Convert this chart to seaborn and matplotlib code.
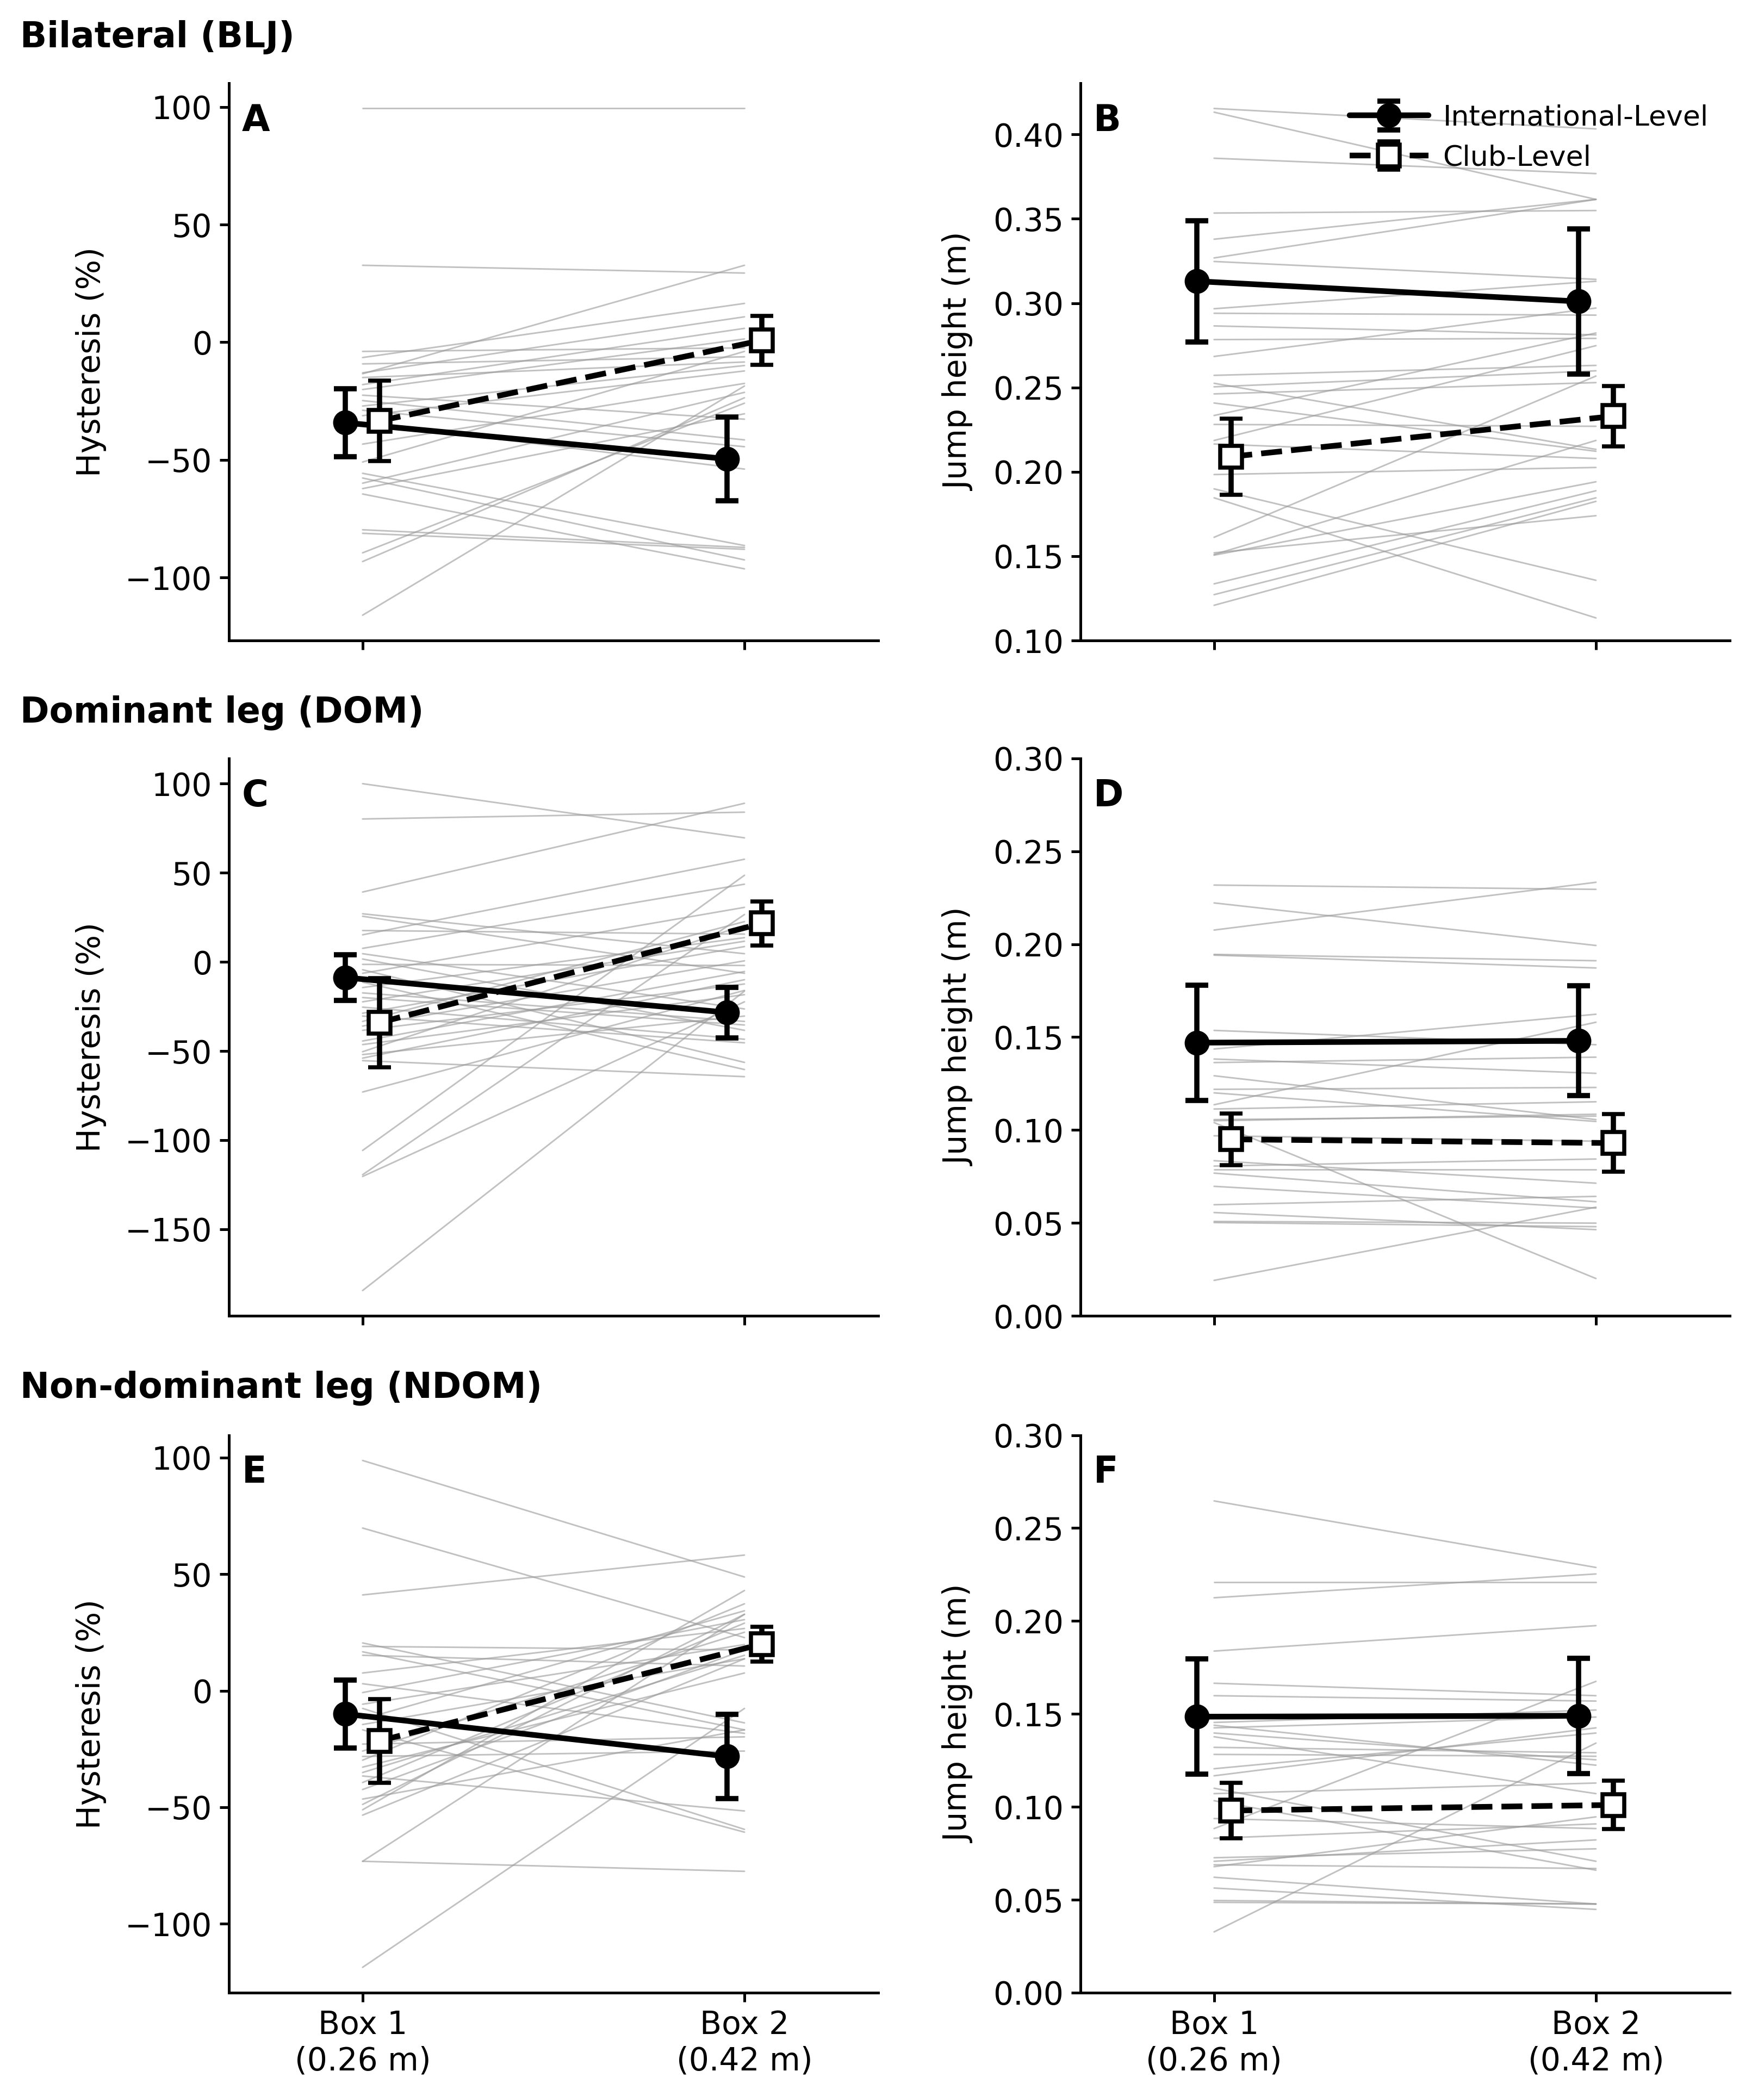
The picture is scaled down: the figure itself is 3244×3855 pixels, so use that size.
import numpy as np
import pandas as pd
import matplotlib
matplotlib.use("Agg")
import matplotlib.pyplot as plt
import seaborn as sns

# ---- labels ----
BOX_LABELS = ["Box 1\n(0.26 m)", "Box 2\n(0.42 m)"]
ROW_TITLES = ["Bilateral (BLJ)", "Dominant leg (DOM)", "Non-dominant leg (NDOM)"]
PANEL_LETTERS = ["A", "B", "C", "D", "E", "F"]
GROUPS = ["International-Level", "Club-Level"]

# ---- individual participants (box 1, box 2) ----
# A: hysteresis, bilateral
A_BOX1 = [99.4, 32.7, -13.4, -3.9, -6.5, -9.2, -13.0, -15.0, -18.0, -20.1, -22.5, -24.8, -27.1, -28.9,
          -31.2, -34.2, -43.3, -50.9, -55.7, -57.7, -59.9, -62.2, -64.5, -79.7, -81.2, -89.5, -93.2, -116.0]
A_BOX2 = [99.4, 29.4, 32.7, -2.4, 16.5, -6.2, 10.8, -8.4, 5.9, 1.4, -32.7, -41.5, -9.9, -44.4,
          -12.2, -53.9, -17.5, -3.9, -86.4, -92.5, -21.3, -30.4, -96.3, -87.2, -88.0, -25.9, -23.6, -18.6]

# B: jump height, bilateral
B_BOX1 = [0.4154, 0.4132, 0.3859, 0.3534, 0.3379, 0.3268, 0.3247, 0.2967, 0.2940, 0.2865, 0.2784,
          0.2684, 0.2572, 0.2525, 0.2504, 0.2462, 0.2408, 0.2334, 0.2281, 0.2186, 0.2165, 0.1984,
          0.1899, 0.1846, 0.1612, 0.1510, 0.1506, 0.1520, 0.1336, 0.1272, 0.1209]
B_BOX2 = [0.4033, 0.3615, 0.3768, 0.3549, 0.3615, 0.3615, 0.3141, 0.3130, 0.2929, 0.2812, 0.2791,
          0.2971, 0.2631, 0.2133, 0.2599, 0.2529, 0.2122, 0.2823, 0.2270, 0.2748, 0.2079, 0.2026,
          0.1357, 0.1134, 0.2568, 0.2186, 0.1941, 0.1740, 0.1888, 0.1846, 0.1825]

# C: hysteresis, dominant leg
C_BOX1 = [100.0, 80.2, 39.2, 27.0, 25.6, 17.6, 15.2, 7.6, 4.6, 1.6, -1.4, -4.4, -6.4, -11.4, -14.4,
          -17.4, -20.0, -22.4, -25.4, -28.8, -30.4, -33.4, -36.0, -38.4, -44.4, -46.4, -50.4, -52.0,
          -54.0, -55.4, -73.0, -105.8, -119.4, -120.4, -184.4]
C_BOX2 = [69.6, 84.0, 89.0, 4.6, -6.4, 15.6, 57.6, 43.6, -26.4, -38.4, -2.0, -56.4, 30.6, -60.4, 13.6,
          -33.4, -35.4, 11.6, -43.4, 8.6, -45.4, 22.6, 0.6, -12.4, -5.4, -18.4, 20.6, -30.4,
          -10.0, -64.4, -16.0, 48.6, 26.6, -22.4, -16.4]

# D: jump height, dominant leg
D_BOX1 = [0.2318, 0.2222, 0.2076, 0.1945, 0.1941, 0.1536, 0.1436, 0.1382, 0.1363, 0.1292, 0.1219,
          0.1200, 0.1136, 0.1113, 0.1056, 0.1040, 0.1050, 0.0969, 0.0835, 0.0806, 0.0787, 0.0768,
          0.0697, 0.0598, 0.0556, 0.0508, 0.0502, 0.0191]
D_BOX2 = [0.2295, 0.1993, 0.2333, 0.1911, 0.1872, 0.1459, 0.1623, 0.1305, 0.1392, 0.1056, 0.1229,
          0.1046, 0.1580, 0.1152, 0.1075, 0.0201, 0.1085, 0.0940, 0.0714, 0.0844, 0.0787, 0.0614,
          0.0580, 0.0643, 0.0464, 0.0499, 0.0480, 0.0585]

# E: hysteresis, non-dominant leg
E_BOX1 = [98.8, 69.8, 41.1, 20.5, 19.0, 16.7, 15.2, 7.6, 3.0, -0.8, -5.8, -7.6, -12.2, -14.5, -16.8,
          -22.9, -25.9, -28.2, -29.8, -32.8, -35.1, -36.6, -39.4, -42.4, -46.5, -48.8, -51.1, -53.4,
          -73.2, -73.2, -118.7]
E_BOX2 = [48.8, 22.8, 58.2, -13.8, 17.5, -16.8, 10.6, 26.7, -18.3, 30.5, 19.8, -59.5, 34.3, 13.7, -60.7,
          -19.8, 25.1, -25.9, 37.3, 7.6, 15.2, -51.6, 29.0, 17.5, -16.8, 32.8, 43.0, 13.7,
          -77.5, 32.8, -7.6]

# F: jump height, non-dominant leg
F_BOX1 = [0.2646, 0.2209, 0.2125, 0.1838, 0.1665, 0.1598, 0.1454, 0.1439, 0.1425, 0.1397, 0.1377,
          0.1320, 0.1282, 0.1205, 0.1167, 0.1100, 0.1071, 0.1033, 0.0937, 0.0883, 0.0831, 0.0726,
          0.0707, 0.0688, 0.0678, 0.0621, 0.0563, 0.0496, 0.0486, 0.0327]
F_BOX2 = [0.2288, 0.2209, 0.2253, 0.1975, 0.1598, 0.1569, 0.1521, 0.1224, 0.1483, 0.1253, 0.1071,
          0.1291, 0.1272, 0.1397, 0.1425, 0.0707, 0.1128, 0.0659, 0.0883, 0.1675, 0.0908, 0.0774,
          0.0822, 0.0668, 0.0946, 0.0477, 0.0448, 0.0477, 0.0477, 0.1343]

# ---- group means and error bars (box 1, box 2) ----
A_INT_MEAN, A_INT_ERR = [-34.2, -49.6], [14.5, 17.8]
A_CLUB_MEAN, A_CLUB_ERR = [-33.4, 0.8], [17.0, 10.4]
B_INT_MEAN, B_INT_ERR = [0.313, 0.301], [0.036, 0.043]
B_CLUB_MEAN, B_CLUB_ERR = [0.209, 0.233], [0.0225, 0.018]
C_INT_MEAN, C_INT_ERR = [-8.8, -28.4], [12.7, 14.2]
C_CLUB_MEAN, C_CLUB_ERR = [-34.0, 21.6], [25.0, 12.4]
D_INT_MEAN, D_INT_ERR = [0.147, 0.148], [0.031, 0.0295]
D_CLUB_MEAN, D_CLUB_ERR = [0.095, 0.093], [0.014, 0.0155]
E_INT_MEAN, E_INT_ERR = [-10.0, -28.2], [14.6, 18.0]
E_CLUB_MEAN, E_CLUB_ERR = [-21.5, 20.0], [18.0, 7.4]
F_INT_MEAN, F_INT_ERR = [0.1485, 0.149], [0.031, 0.031]
F_CLUB_MEAN, F_CLUB_ERR = [0.098, 0.101], [0.015, 0.013]

PANELS = [
    (A_BOX1, A_BOX2, A_INT_MEAN, A_INT_ERR, A_CLUB_MEAN, A_CLUB_ERR),
    (B_BOX1, B_BOX2, B_INT_MEAN, B_INT_ERR, B_CLUB_MEAN, B_CLUB_ERR),
    (C_BOX1, C_BOX2, C_INT_MEAN, C_INT_ERR, C_CLUB_MEAN, C_CLUB_ERR),
    (D_BOX1, D_BOX2, D_INT_MEAN, D_INT_ERR, D_CLUB_MEAN, D_CLUB_ERR),
    (E_BOX1, E_BOX2, E_INT_MEAN, E_INT_ERR, E_CLUB_MEAN, E_CLUB_ERR),
    (F_BOX1, F_BOX2, F_INT_MEAN, F_INT_ERR, F_CLUB_MEAN, F_CLUB_ERR),
]

sns.set_style("ticks")
plt.rcParams["font.family"] = ["DejaVu Sans"]
plt.rcParams.update({
    "text.color": "black",
    "axes.labelcolor": "black",
    "axes.edgecolor": "black",
    "xtick.color": "black",
    "ytick.color": "black",
    "axes.linewidth": 1.2,
    "xtick.major.width": 1.2,
    "ytick.major.width": 1.2,
    "xtick.major.size": 4,
    "ytick.major.size": 4,
    "xtick.labelsize": 14,
    "ytick.labelsize": 14,
    "axes.labelsize": 14,
    "axes.labelpad": 8,
})

OFFSET = 0.045
X = np.array([0, 1])


def draw_panel(ax, box1, box2, int_mean, int_err, club_mean, club_err):
    n = len(box1)
    df = pd.DataFrame({
        "subject": np.tile(np.arange(n), 2),
        "box": np.repeat([0, 1], n),
        "value": list(box1) + list(box2),
    })
    # individual participant lines
    sns.lineplot(data=df, x="box", y="value", units="subject", estimator=None,
                 color="0.6", alpha=0.6, lw=0.7, legend=False, ax=ax, zorder=1)
    # group means
    ax.errorbar(X - OFFSET, int_mean, yerr=int_err, fmt="-o", color="black",
                ms=10, lw=2.5, elinewidth=2.3, capsize=5, capthick=2.3,
                label=GROUPS[0], zorder=3)
    ax.errorbar(X + OFFSET, club_mean, yerr=club_err, fmt="--s", color="black",
                mfc="white", mec="black", mew=1.8, ms=9.5, lw=2.5, elinewidth=2.3,
                capsize=5, capthick=2.3, label=GROUPS[1], zorder=3)
    ax.set_xlim(-0.35, 1.35)
    ax.set_xticks(X)
    sns.despine(ax=ax)


fig = plt.figure(figsize=(3244 / 300, 3855 / 300), dpi=300)
lefts = [0.1298, 0.6125]
bottoms = [0.6944, 0.3722, 0.0493]
width, height = 0.368, 0.266

axes = []
for i, data in enumerate(PANELS):
    row, col = divmod(i, 2)
    ax = fig.add_axes([lefts[col], bottoms[row], width, height])
    draw_panel(ax, *data)
    axes.append(ax)

    if col == 0:
        ax.set_ylabel("Hysteresis (%)")
        ax.set_yticks([-150, -100, -50, 0, 50, 100] if row == 1 else [-100, -50, 0, 50, 100])
    else:
        ax.set_ylabel("Jump height (m)")
        if row == 0:
            ax.set_ylim(bottom=0.10)
            ax.set_yticks(np.arange(0.10, 0.41, 0.05))
        else:
            ax.set_ylim(0, 0.30)
            ax.set_yticks(np.arange(0.0, 0.31, 0.05))
        ax.yaxis.set_major_formatter(matplotlib.ticker.FormatStrFormatter("%.2f"))

    ax.set_xlabel("")
    if row == 2:
        ax.set_xticklabels(BOX_LABELS)
    else:
        ax.set_xticklabels([])

    ax.text(0.02, 0.965, PANEL_LETTERS[i], transform=ax.transAxes,
            fontsize=16, fontweight="bold", ha="left", va="top")

axes[1].legend(loc="upper right", frameon=False, fontsize=12.5,
               borderaxespad=0.35, handlelength=2.8, handletextpad=0.5,
               labelspacing=0.45)

for title, y in zip(ROW_TITLES, [0.9821, 0.6599, 0.3377]):
    fig.text(0.0114, y, title, fontsize=15.5, fontweight="bold", ha="left", va="center")

fig.savefig("out.png", dpi=300)
